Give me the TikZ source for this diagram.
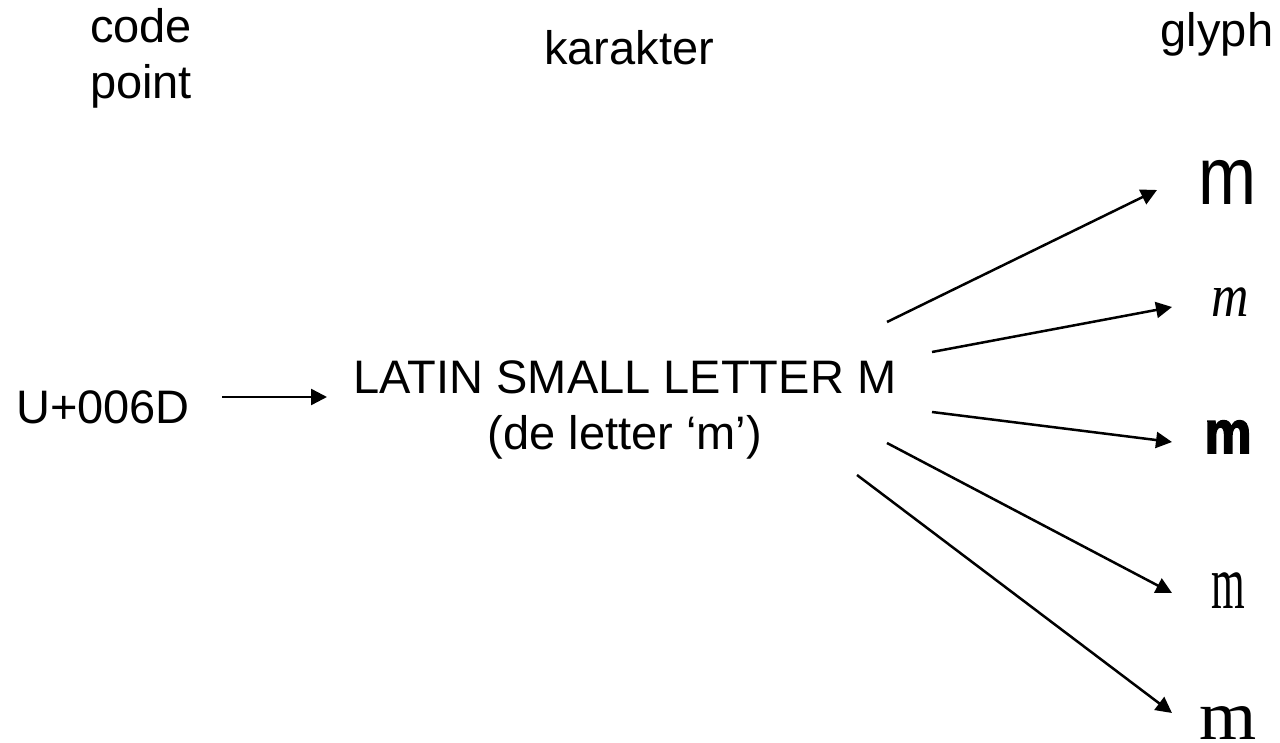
\documentclass[tikz,border=0pt]{standalone}
\usepackage{fontspec}
\usepackage{graphicx}
\setmainfont{Liberation Sans}
\newfontfamily\seriffont{Liberation Serif}
\newfontfamily\heavyfont{Liberation Sans Bold}[FakeBold=3]
\usetikzlibrary{arrows.meta}
\begin{document}
\begin{tikzpicture}[x=0.5pt,y=-0.5pt,
  lbl/.style={inner sep=0pt, anchor=base, align=center,
              font=\fontsize{23.5}{28}\selectfont},
  glyphbox/.style={inner sep=0pt, anchor=base},
  arr/.style={draw, line width=1.25pt, -{Triangle[length=8pt,width=8pt]}}]
\useasboundingbox (0,0) rectangle (1280,743);

% column headings (a multi-line node sits on the baseline of its last line)
\node[lbl] (cp)  at (141,99)  {code\\point};
\node[lbl] (kar) at (629,65)  {karakter};
\node[lbl] (gl)  at (1217,47) {glyph};

% code point and abstract character
\node[lbl] (cpt) at (103,423) {U+006D};
\node[lbl] (chr) at (625,449) {LATIN SMALL LETTER M\\(de letter ‘m’)};

% five glyphs of the same character
\node[glyphbox] (g1) at (1228,205) {\fontsize{41}{41}\selectfont\scalebox{0.85}[1]{m}};
\node[glyphbox] (g2) at (1230,317) {\seriffont\itshape\fontsize{30.5}{30.5}\selectfont\scalebox{0.85}[1]{m}};
\node[glyphbox] (g3) at (1228,453) {\heavyfont\fontsize{30}{30}\selectfont\scalebox{0.88}[1]{m}};
\node[glyphbox] (g4) at (1228,608) {\seriffont\fontsize{38}{38}\selectfont\scalebox{0.57}[1]{m}};
\node[glyphbox] (g5) at (1228,739) {\seriffont\fontsize{35}{35}\selectfont\scalebox{1.05}[1]{m}};

% code point -> character
\coordinate (a0) at (222,397);
\coordinate (b0) at (327,397);
\draw[arr] (a0) -- (b0);

% character -> glyphs
\coordinate (f1) at (887,322);
\coordinate (f2) at (932,352);
\coordinate (f3) at (932,412);
\coordinate (f4) at (887,443);
\coordinate (f5) at (857,475);
\coordinate (t1) at (1157,190);
\coordinate (t2) at (1172,307);
\coordinate (t3) at (1172,442);
\coordinate (t4) at (1172,593);
\coordinate (t5) at (1172,713);
\foreach \i in {1,...,5} \draw[arr] (f\i) -- (t\i);
\end{tikzpicture}
\end{document}
